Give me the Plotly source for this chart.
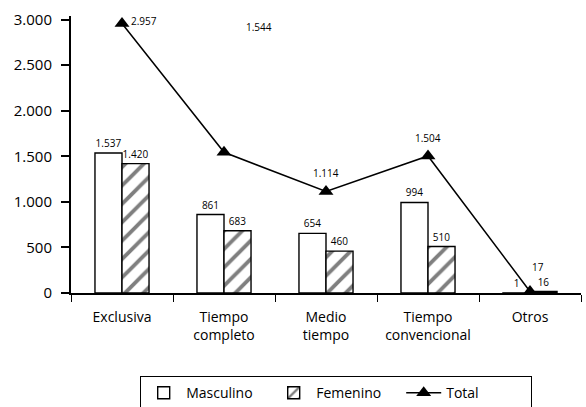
import plotly.graph_objects as go

categorias = ["Exclusiva", "Tiempo<br>completo", "Medio<br>tiempo", "Tiempo<br>convencional", "Otros"]
masculino = [1537, 861, 654, 994, 1]
femenino = [1420, 683, 460, 510, 16]
total = [2957, 1544, 1114, 1504, 17]

FONT = "Open Sans"

fig = go.Figure()

fig.add_trace(go.Bar(
    name="Masculino", x=categorias, y=masculino,
    marker=dict(color="white", line=dict(color="black", width=1.4)),
    text=masculino, texttemplate="%{y:,.0f}", textposition="outside",
    textfont=dict(size=10, color="black", family=FONT),
    cliponaxis=False,
))
fig.add_trace(go.Bar(
    name="Femenino", x=categorias, y=femenino,
    marker=dict(color="white", line=dict(color="black", width=1.4),
                pattern=dict(shape="/", fgcolor="black", bgcolor="white",
                             size=13, solidity=0.3)),
    text=femenino, texttemplate="%{y:,.0f}", textposition="outside",
    textfont=dict(size=10, color="black", family=FONT),
    cliponaxis=False,
))
fig.add_trace(go.Scatter(
    name="Total", x=categorias, y=total, mode="lines+markers",
    line=dict(color="black", width=1.5),
    marker=dict(symbol="triangle-up", size=13, color="black"),
    cliponaxis=False,
))

# value labels for the Total line
total_offsets = [(22, 3), None, (0, 18), (0, 18), (8, 24)]
for cat, val, off in zip(categorias, total, total_offsets):
    txt = f"{val:,}".replace(",", ".")
    if off is None:
        fig.add_annotation(x=cat, y=2920, text=txt, showarrow=False, xshift=35,
                           font=dict(size=10, color="black", family=FONT))
    else:
        fig.add_annotation(x=cat, y=val, text=txt, showarrow=False,
                           xshift=off[0], yshift=off[1],
                           font=dict(size=10, color="black", family=FONT))

fig.update_layout(
    width=586, height=407,
    margin=dict(l=71, r=5, t=16, b=114, autoexpand=False),
    paper_bgcolor="white", plot_bgcolor="white",
    separators=",.",
    barmode="group", bargap=0.47, bargroupgap=0,
    font=dict(family=FONT, color="black"),
    showlegend=True,
    legend=dict(orientation="h", x=0.52, xanchor="center", y=-0.3, yanchor="top",
                bordercolor="black", borderwidth=1, bgcolor="white",
                font=dict(size=14, family=FONT), itemwidth=35,
                entrywidth=80, tracegroupgap=0),
)
fig.update_yaxes(
    range=[0, 3040], tickvals=[0, 500, 1000, 1500, 2000, 2500, 3000],
    tickformat=",.0f", showgrid=False, zeroline=False,
    showline=True, linecolor="black", linewidth=2,
    ticks="outside", ticklen=8, tickcolor="black", tickwidth=1.5,
    ticklabelstandoff=6,
    tickfont=dict(size=15, family=FONT),
)
fig.update_xaxes(
    showgrid=False, showline=True, linecolor="black", linewidth=2,
    ticks="outside", tickson="boundaries", ticklen=7, tickcolor="black", tickwidth=1.2,
    ticklabelstandoff=10,
    tickfont=dict(size=14, family=FONT),
)

fig.write_html("out.html")
